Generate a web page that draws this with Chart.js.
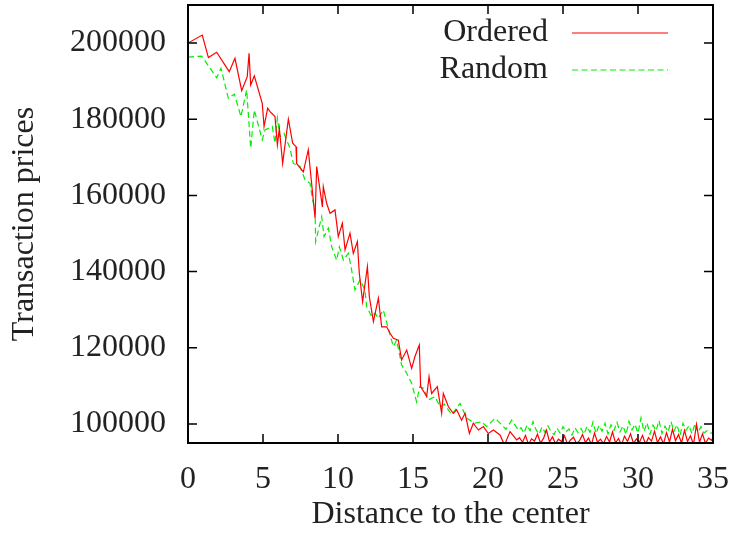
<!DOCTYPE html>
<html>
  <head>
    <script src="https://cdn.jsdelivr.net/npm/chart.js@4.4.0/dist/chart.umd.min.js"></script>
    <style>
      html, body { margin: 0; padding: 0; background: #fff; }
      #wrap { width: 736px; height: 534px; }
    </style>
  </head>
  <body>
    <div id="wrap"><canvas id="prices"></canvas></div>
    <script>
      // INPUT DATA

      const seriesNames = ["Ordered", "Random"];

      const orderedX = [
        0, 0.95, 1.36, 1.91, 2.75, 3.13, 3.58, 3.95, 4.07, 4.18, 4.42, 4.95,
        5.07, 5.31, 5.47, 5.8, 5.96, 6.09, 6.31, 6.69, 6.98, 7.2, 7.24, 7.69,
        8.02, 8.24, 8.47, 8.58, 8.96, 9.02, 9.24, 9.47, 9.8, 10.02, 10.29, 10.47,
        10.8, 11.02, 11.29, 11.42, 11.64, 11.96, 12.09, 12.36, 12.69, 12.91, 13.24, 13.47,
        13.69, 14.02, 14.24, 14.58, 14.91, 15.13, 15.42, 15.51, 15.91, 16.07, 16.24, 16.62,
        16.91, 17.02, 17.36, 17.69, 17.91, 18.24, 18.47, 18.76, 19.02, 19.36, 19.69, 20.02,
        20.36, 20.8, 21.1, 21.47, 21.91,
        22.1, 22.3, 22.5, 22.7, 22.9, 23.1, 23.3, 23.5, 23.7, 23.9, 24.1, 24.3,
        24.5, 24.7, 24.9, 25.1, 25.3, 25.5, 25.7, 25.9, 26.1, 26.3, 26.5, 26.7,
        26.9, 27.1, 27.3, 27.5, 27.7, 27.9, 28.1, 28.3, 28.5, 28.7, 28.9, 29.1,
        29.3, 29.5, 29.7, 29.9, 30.1, 30.3, 30.5, 30.7, 30.9, 31.1, 31.3, 31.5,
        31.7, 31.9, 32.1, 32.3, 32.5, 32.7, 32.9, 33.1, 33.3, 33.5, 33.7, 33.9,
        34.1, 34.3, 34.5, 34.7, 34.9, 35.0,
      ];
      const orderedY = [
        200000, 202100, 196200, 197600, 192500, 196000, 187500, 191200, 197300, 189000, 191400, 184200,
        178100, 182900, 182000, 180700, 173300, 177600, 168400, 180000, 173700, 172800, 168400, 166200,
        172000, 163200, 154000, 167600, 157000, 162300, 158000, 155300, 156200, 149200, 152700, 145700,
        150100, 144800, 147900, 139600, 132100, 141300, 133400, 126900, 133000, 125500, 125500, 123800,
        122500, 122000, 116800, 119400, 114600, 117700, 120700, 109800, 107200, 112400, 108000, 109800,
        102800, 108000, 104500, 102800, 103700, 101000, 102800, 97500, 100200, 98400, 99300, 97500,
        98400, 97100, 94500, 98000, 95800,
        96400, 95200, 97000, 94600, 96100, 95500, 97300, 95000, 96200, 98400, 95300, 96600,
        94800, 96000, 95400, 96900, 94700, 95800, 96500, 94900, 95600, 97200, 95100, 96300,
        94600, 97600, 95200, 96000, 94800, 96700, 95300, 97900, 95000, 96200, 94500, 96800,
        95400, 97400, 94900, 96100, 95200, 97000, 94700, 96400, 95500, 98100, 95100, 96600,
        94800, 97700, 95300, 98600, 95600, 97200, 95000, 98300, 95400, 96900, 94600, 99900,
        95200, 97400, 94900, 96300, 95700, 96400,
      ];

      const randomX = [
        0, 0.91, 1.91, 2.2, 2.69, 3.09, 3.53, 3.91, 4.18, 4.42, 4.95, 5.13,
        5.62, 5.8, 5.96, 6.13, 6.4, 6.8, 7.02, 7.47, 7.8, 8.13, 8.31, 8.47,
        8.51, 8.91, 9.07, 9.36, 9.58, 9.91, 10.09, 10.36, 10.69, 10.91, 11.13, 11.47,
        11.8, 11.91, 12.24, 12.47, 12.69, 13.02, 13.47, 13.69, 13.91, 14.24, 14.58, 14.91,
        15.24, 15.45, 15.69, 16.02, 16.47, 16.8, 17.1, 17.58, 18.13, 18.58, 19.13, 19.58,
        19.91, 20.47, 20.8, 21.2, 21.58, 22.02,
        22.2, 22.4, 22.6, 22.8, 23.0, 23.2, 23.4, 23.6, 23.8, 24.0, 24.2, 24.4,
        24.6, 24.8, 25.0, 25.2, 25.4, 25.6, 25.8, 26.0, 26.2, 26.4, 26.6, 26.8,
        27.0, 27.2, 27.4, 27.6, 27.8, 28.0, 28.2, 28.4, 28.6, 28.8, 29.0, 29.2,
        29.4, 29.6, 29.8, 30.0, 30.2, 30.4, 30.6, 30.8, 31.0, 31.2, 31.4, 31.6,
        31.8, 32.0, 32.2, 32.4, 32.6, 32.8, 33.0, 33.2, 33.4, 33.6, 33.8, 34.0,
        34.2, 34.4, 34.6, 34.8, 35.0,
      ];
      const randomY = [
        196300, 196600, 190900, 193400, 185500, 186600, 180700, 187700, 172400, 182400, 174600, 177200,
        178100, 173700, 180300, 175400, 176300, 172400, 168400, 167600, 164100, 163200, 158800, 156200,
        147900, 154400, 149200, 151400, 146500, 143000, 146500, 143000, 144800, 140400, 135200, 137800,
        135200, 130800, 128200, 129100, 127700, 129900, 123400, 120300, 122000, 115500, 113300, 110700,
        105800, 109800, 109400, 106300, 107200, 104500, 105200, 102400, 105400, 101500, 100200, 100600,
        99300, 101500, 100200, 98600, 101000, 98400,
        99000, 97600, 99700, 98200, 100600, 98500, 97300, 99200, 97800, 99500, 98000, 97200,
        98900, 97600, 99300, 97900, 98700, 97100, 99000, 97700, 98800, 97300, 99400, 97800,
        100500, 97500, 99600, 98100, 100200, 97400, 99800, 98300, 100400, 97900, 99500, 97200,
        100700, 98400, 99900, 97600, 101600, 98000, 100300, 97300, 99700, 98200, 100900, 97500,
        99400, 97900, 100600, 98100, 99800, 97000, 100200, 98300, 99600, 97400, 100100, 97800,
        99300, 97600, 98200, 97700, 97500,
      ];

      const xTicks = [0, 5, 10, 15, 20, 25, 30, 35];
      const yTicks = [100000, 120000, 140000, 160000, 180000, 200000];

      const xTitle = "Distance to the center";
      const yTitle = "Transaction prices";

      // PLOTTING

      const serif = "'Liberation Serif', 'DejaVu Serif', serif";
      const ink = "#222";
      const fontSize = 32;

      function toPoints(xs, ys) {
        return xs.map(function (x, i) {
          return { x: x, y: ys[i] };
        });
      }

      // gnuplot-like frame: inward ticks on all four sides, and the key at top right
      const framePlugin = {
        id: "frame",
        afterDatasetsDraw(chart) {
          const ctx = chart.ctx;
          const a = chart.chartArea;
          const xs = chart.scales.x;
          const ys = chart.scales.y;
          ctx.save();
          ctx.strokeStyle = "#000";
          ctx.lineWidth = 1.5;
          ctx.beginPath();
          xTicks.forEach(function (v) {
            const p = xs.getPixelForValue(v);
            ctx.moveTo(p, a.bottom);
            ctx.lineTo(p, a.bottom - 9);
            ctx.moveTo(p, a.top);
            ctx.lineTo(p, a.top + 9);
          });
          yTicks.forEach(function (v) {
            const p = ys.getPixelForValue(v);
            ctx.moveTo(a.left, p);
            ctx.lineTo(a.left + 9, p);
            ctx.moveTo(a.right, p);
            ctx.lineTo(a.right - 9, p);
          });
          ctx.stroke();
          ctx.lineWidth = 2;
          ctx.strokeRect(a.left, a.top, a.right - a.left, a.bottom - a.top);

          ctx.font = fontSize + "px " + serif;
          ctx.fillStyle = ink;
          ctx.textAlign = "right";
          ctx.textBaseline = "alphabetic";
          chart.data.datasets.forEach(function (ds, i) {
            const base = a.top + 36 + i * 37;
            ctx.fillText(ds.label, a.right - 165, base);
            ctx.strokeStyle = ds.borderColor;
            ctx.lineWidth = ds.borderWidth;
            ctx.setLineDash(ds.borderDash || []);
            ctx.beginPath();
            ctx.moveTo(a.right - 141, base - 8);
            ctx.lineTo(a.right - 45, base - 8);
            ctx.stroke();
          });
          ctx.restore();
        },
      };

      const ctx = document.getElementById("prices").getContext("2d");
      new Chart(ctx, {
        type: "line",
        data: {
          datasets: [
            {
              label: seriesNames[0],
              data: toPoints(orderedX, orderedY),
              borderColor: "#ff0000",
              borderWidth: 1.2,
              pointRadius: 0,
              tension: 0,
              fill: false,
            },
            {
              label: seriesNames[1],
              data: toPoints(randomX, randomY),
              borderColor: "#00ee00",
              borderWidth: 1.2,
              borderDash: [6, 3.5],
              pointRadius: 0,
              tension: 0,
              fill: false,
            },
          ],
        },
        options: {
          responsive: true,
          maintainAspectRatio: false,
          animation: false,
          layout: { padding: { top: 5, right: 23, left: 0, bottom: 0 } },
          plugins: {
            legend: { display: false },
            tooltip: { enabled: false },
          },
          scales: {
            x: {
              type: "linear",
              min: 0,
              max: 35,
              grid: { display: false, drawTicks: false },
              border: { display: false },
              afterBuildTicks: function (scale) {
                scale.ticks = xTicks.map(function (v) { return { value: v }; });
              },
              afterFit: function (scale) {
                scale.height = 91;
                scale.paddingLeft = 0;
                scale.paddingRight = 0;
              },
              ticks: {
                font: { family: serif, size: fontSize },
                color: ink,
                padding: 17,
                maxRotation: 0,
                callback: function (v) { return String(v); },
              },
              title: {
                display: true,
                text: xTitle,
                font: { family: serif, size: fontSize },
                color: ink,
                padding: { top: 0, bottom: 0 },
              },
            },
            y: {
              type: "linear",
              min: 95000,
              max: 210000,
              grid: { display: false, drawTicks: false },
              border: { display: false },
              afterBuildTicks: function (scale) {
                scale.ticks = yTicks.map(function (v) { return { value: v }; });
              },
              afterFit: function (scale) {
                scale.width = 188;
                scale.paddingTop = 0;
                scale.paddingBottom = 0;
              },
              ticks: {
                font: { family: serif, size: fontSize },
                color: ink,
                padding: 22,
                callback: function (v) { return String(v); },
              },
              title: {
                display: true,
                text: yTitle,
                font: { family: serif, size: fontSize },
                color: ink,
                padding: { top: 5, bottom: 0 },
              },
            },
          },
        },
        plugins: [framePlugin],
      });
    </script>
  </body>
</html>
